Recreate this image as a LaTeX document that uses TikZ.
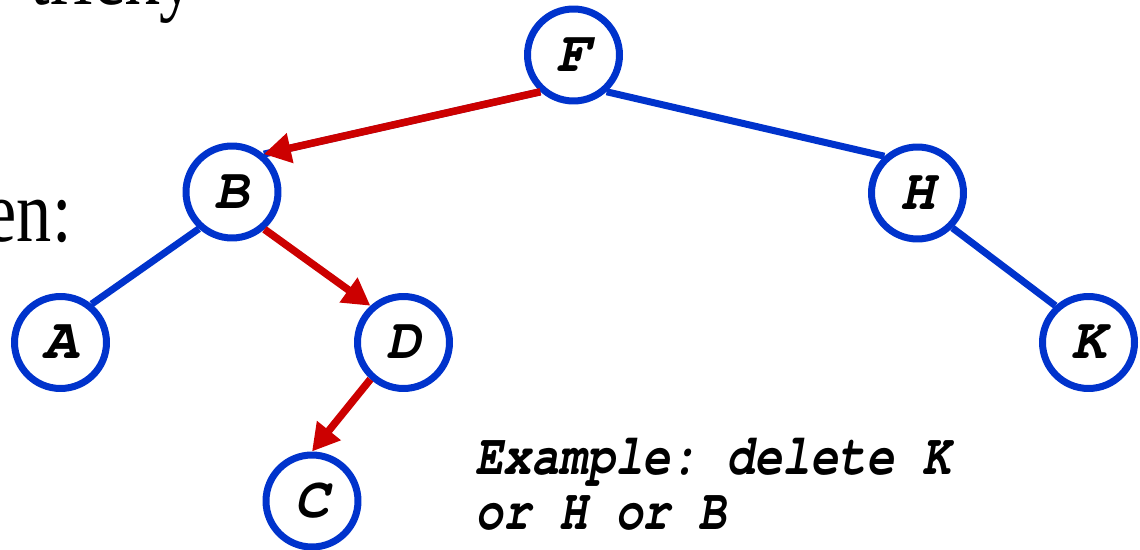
\documentclass[tikz,border=0pt]{standalone}
\usepackage[T1]{fontenc}
\usepackage{fontspec}
\setmainfont{Liberation Serif}
\newcommand{\courbi}{\fontencoding{T1}\fontfamily{pcr}\fontseries{b}\fontshape{sl}\selectfont}
\usetikzlibrary{arrows.meta}
\definecolor{treeblue}{RGB}{0,51,204}
\definecolor{treered}{RGB}{204,0,0}
\frenchspacing
\begin{document}
\begin{tikzpicture}[x=0.02cm,y=-0.02cm,
  tnode/.style={circle,draw=treeblue,line width=0.14cm,fill=white,inner sep=0pt,
    minimum size=1.84cm,font=\courbi\fontsize{33}{33}\selectfont},
  tedge/.style={draw=treeblue,line width=0.14cm},
  redarrow/.style={draw=treered,line width=0.15cm,-{Triangle[length=0.54cm,width=0.58cm]},fill=treered},
  bigtext/.style={inner sep=0pt,font=\fontsize{50}{50}\selectfont},
  exampletext/.style={inner sep=0pt,font=\courbi\fontsize{26.5}{31}\selectfont\frenchspacing}]
\useasboundingbox (0,0) rectangle (1140,550);
\node[bigtext,anchor=base east] (tricky) at (195,5) {\scalebox{0.8}[1]{tricky}};
\node[bigtext,anchor=base east] (en) at (72,242) {\scalebox{0.8}[1]{en:}};
\node[tnode] (F) at (573.5,55) {F};
\node[tnode] (B) at (232,192) {B};
\node[tnode] (H) at (917.5,193) {H};
\node[tnode] (A) at (60.5,342.5) {A};
\node[tnode] (D) at (403.5,342.5) {D};
\node[tnode] (K) at (1088.5,342.5) {K};
\node[tnode] (C) at (312,501) {C};
\path[tedge] (F.-132) -- (B.50);
\path[tedge] (F.-48) -- (H.132);
\path[tedge] (B.-132) -- (A.51);
\path[tedge] (H.-45) -- (K.132);
\path[redarrow] (F.-132) -- (B.50);
\path[redarrow] (B.-49) -- (D.132);
\path[redarrow] (D.-132) -- (C.90);
\node[exampletext,anchor=base west] (ex1) at (475,475) {\scalebox{1}[1.25]{Example: delete K}};
\node[exampletext,anchor=base west] (ex2) at (475,530) {\scalebox{1}[1.25]{or H or B}};
\end{tikzpicture}
\end{document}
